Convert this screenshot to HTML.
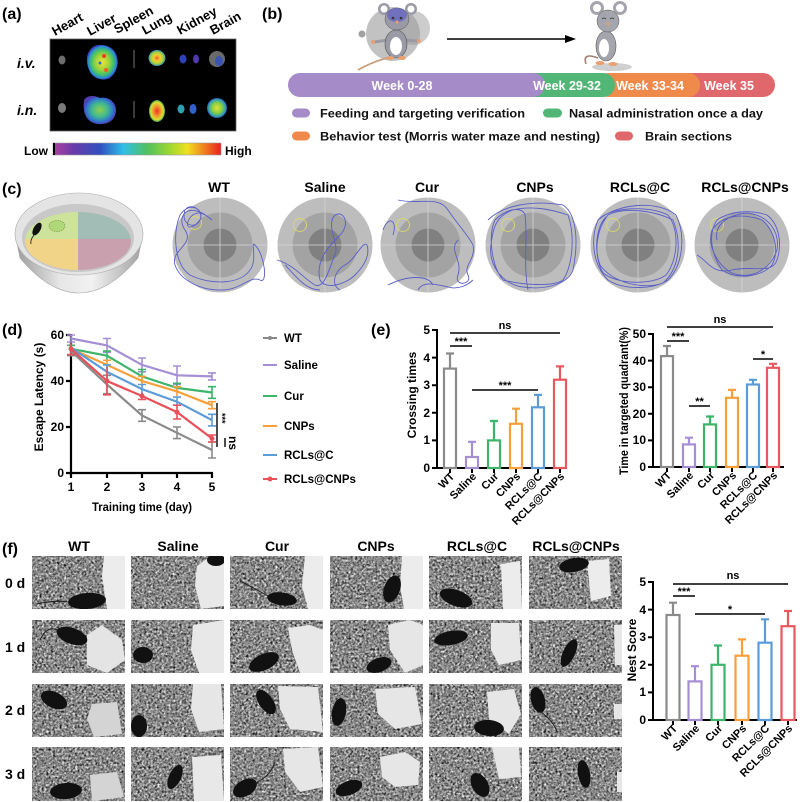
<!DOCTYPE html>
<html><head><meta charset="utf-8"><style>
html,body{margin:0;padding:0;background:#fff;}
svg{display:block;font-family:"Liberation Sans",Arial,sans-serif;font-weight:bold;}
</style></head><body>
<svg width="800" height="802" viewBox="0 0 800 802" xmlns="http://www.w3.org/2000/svg">
<defs>
<linearGradient id="cbar" x1="0" x2="1" y1="0" y2="0">
<stop offset="0" stop-color="#b040a0"/><stop offset="0.12" stop-color="#6a3aa8"/><stop offset="0.28" stop-color="#3050c0"/><stop offset="0.42" stop-color="#30c0e8"/><stop offset="0.56" stop-color="#50c060"/><stop offset="0.7" stop-color="#a0d830"/><stop offset="0.8" stop-color="#f0e020"/><stop offset="0.9" stop-color="#f08020"/><stop offset="1" stop-color="#e82020"/>
</linearGradient>
<radialGradient id="hg1"><stop offset="0" stop-color="#f2e23a"/><stop offset="0.45" stop-color="#9ad43c"/><stop offset="0.72" stop-color="#44c06a"/><stop offset="0.9" stop-color="#2a90d0"/><stop offset="1" stop-color="#3a40c0"/></radialGradient>
<radialGradient id="hg2"><stop offset="0" stop-color="#90d050"/><stop offset="0.5" stop-color="#40b890"/><stop offset="0.85" stop-color="#3070d0"/><stop offset="1" stop-color="#5040b0"/></radialGradient>
<radialGradient id="hg2b"><stop offset="0" stop-color="#e0e040"/><stop offset="0.5" stop-color="#8ad040"/><stop offset="0.85" stop-color="#30a0b0"/><stop offset="1" stop-color="#3050c0"/></radialGradient>
<radialGradient id="hg3"><stop offset="0" stop-color="#f06030"/><stop offset="0.4" stop-color="#f0d030"/><stop offset="0.75" stop-color="#a0d040"/><stop offset="1" stop-color="#3090c0"/></radialGradient>
<radialGradient id="hgR"><stop offset="0" stop-color="#f03020"/><stop offset="0.5" stop-color="#f0a030"/><stop offset="0.8" stop-color="#d8e030"/><stop offset="1" stop-color="#40a060"/></radialGradient>
<linearGradient id="bowl" x1="0" x2="1" y1="0" y2="0"><stop offset="0" stop-color="#9a9a9a"/><stop offset="0.35" stop-color="#e6e6e6"/><stop offset="0.6" stop-color="#f2f2f2"/><stop offset="1" stop-color="#a0a0a0"/></linearGradient>
<clipPath id="water"><ellipse cx="78" cy="241" rx="53" ry="29"/></clipPath>
<filter id="nz" filterUnits="userSpaceOnUse" x="30" y="554" width="596" height="250" color-interpolation-filters="sRGB">
<feTurbulence type="fractalNoise" baseFrequency="0.45" numOctaves="3" seed="7"/>
<feColorMatrix type="matrix" values="0.33 0.33 0.33 0 0 0.33 0.33 0.33 0 0 0.33 0.33 0.33 0 0 0 0 0 0 1"/>
<feComponentTransfer><feFuncR type="linear" slope="2.2" intercept="-0.56"/><feFuncG type="linear" slope="2.2" intercept="-0.56"/><feFuncB type="linear" slope="2.2" intercept="-0.56"/></feComponentTransfer>
</filter>
<clipPath id="photos">
<rect x="32" y="556" width="93" height="53"/><rect x="131" y="556" width="93" height="53"/><rect x="230" y="556" width="93" height="53"/><rect x="330" y="556" width="93" height="53"/><rect x="429" y="556" width="93" height="53"/><rect x="529" y="556" width="93" height="53"/>
<rect x="32" y="620" width="93" height="53"/><rect x="131" y="620" width="93" height="53"/><rect x="230" y="620" width="93" height="53"/><rect x="330" y="620" width="93" height="53"/><rect x="429" y="620" width="93" height="53"/><rect x="529" y="620" width="93" height="53"/>
<rect x="32" y="684" width="93" height="53"/><rect x="131" y="684" width="93" height="53"/><rect x="230" y="684" width="93" height="53"/><rect x="330" y="684" width="93" height="53"/><rect x="429" y="684" width="93" height="53"/><rect x="529" y="684" width="93" height="53"/>
<rect x="32" y="747" width="93" height="54"/><rect x="131" y="747" width="93" height="54"/><rect x="230" y="747" width="93" height="54"/><rect x="330" y="747" width="93" height="54"/><rect x="429" y="747" width="93" height="54"/><rect x="529" y="747" width="93" height="54"/>
</clipPath>
</defs>

<!-- ===== Panel (a) ===== -->
<text x="2" y="19" font-size="16">(a)</text>
<g font-size="13">
<text transform="translate(55,36) rotate(-29)">Heart</text>
<text transform="translate(90,36) rotate(-29)">Liver</text>
<text transform="translate(117,34) rotate(-29)">Spleen</text>
<text transform="translate(145,35) rotate(-29)">Lung</text>
<text transform="translate(180,35) rotate(-29)">Kidney</text>
<text transform="translate(213,35) rotate(-29)">Brain</text>
</g>
<rect x="50" y="39" width="186" height="92" fill="#000" stroke="#666" stroke-width="0.8"/>
<text x="17" y="68" font-size="14" font-style="italic">i.v.</text>
<text x="17" y="115" font-size="14" font-style="italic">i.n.</text>
<ellipse cx="62" cy="60" rx="3.5" ry="4.5" fill="#6e6e6e"/>
<ellipse cx="62" cy="108" rx="4" ry="5" fill="#7a7a7a"/>
<path d="M90,50 C95,42 110,44 115,52 C120,60 118,72 110,78 C102,82 92,78 89,70 C86,62 86,55 90,50 Z" fill="url(#hg1)"/>
<circle cx="104" cy="56" r="2" fill="#f04020"/><circle cx="106" cy="70" r="2" fill="#f06020"/><circle cx="100" cy="63" r="1.5" fill="#3070d0"/>
<path d="M84,100 C88,94 96,96 100,98 C108,96 116,102 116,110 C116,120 108,125 98,124 C88,123 82,115 84,100 Z" fill="url(#hg2)"/>
<line x1="134" y1="50" x2="134" y2="68" stroke="#3a3a3a" stroke-width="2"/>
<line x1="134" y1="101" x2="134" y2="118" stroke="#3a3a3a" stroke-width="2"/>
<ellipse cx="157" cy="58" rx="8.5" ry="8" fill="url(#hg3)"/>
<ellipse cx="157" cy="111" rx="8" ry="11" fill="url(#hgR)"/>
<ellipse cx="183" cy="59" rx="3.5" ry="4.5" fill="#3040b8"/>
<ellipse cx="196" cy="59" rx="3" ry="4.5" fill="#5038b0"/>
<ellipse cx="181" cy="109" rx="3.5" ry="4.5" fill="#30a0b0"/>
<ellipse cx="193" cy="109" rx="3.5" ry="5" fill="#3060c8"/>
<ellipse cx="217" cy="59" rx="8" ry="8" fill="#6a6a6a"/>
<ellipse cx="219" cy="61" rx="4" ry="5" fill="#3050c0" opacity="0.85"/>
<ellipse cx="217" cy="108" rx="10" ry="10" fill="url(#hg2b)"/>
<text x="24" y="155" font-size="12">Low</text>
<rect x="53" y="143" width="168" height="12" fill="url(#cbar)" stroke="#999" stroke-width="0.6"/>
<rect x="53" y="143" width="2" height="12" fill="#000"/>
<text x="225" y="155" font-size="12">High</text>

<!-- ===== Panel (b) ===== -->
<text x="262" y="19" font-size="16">(b)</text>
<circle cx="393" cy="34" r="27" fill="#9a9a9a" opacity="0.6"/>
<circle cx="413" cy="28" r="17" fill="#9a9a9a" opacity="0.5"/>
<circle cx="362" cy="34" r="3.5" fill="#a0a0a0"/>
<path d="M387,58 Q372,62 358,70" stroke="#c8a080" stroke-width="1.8" fill="none"/>
<line x1="388" y1="40" x2="374" y2="42" stroke="#9a9aa6" stroke-width="3"/>
<line x1="404" y1="40" x2="418" y2="41" stroke="#9a9aa6" stroke-width="3"/>
<circle cx="373" cy="42" r="2" fill="#e8a070"/><circle cx="419" cy="41" r="2" fill="#e8a070"/>
<ellipse cx="396" cy="44" rx="11" ry="14" fill="#9a9aa6" stroke="#555" stroke-width="0.6"/>
<ellipse cx="396" cy="46" rx="6" ry="9" fill="#fff"/>
<ellipse cx="390" cy="58" rx="4" ry="2" fill="#e8a070"/><ellipse cx="402" cy="58" rx="4" ry="2" fill="#e8a070"/>
<circle cx="384" cy="9" r="6" fill="#9a9aa6"/><circle cx="384" cy="9" r="3.5" fill="#fff"/>
<circle cx="411" cy="9" r="6" fill="#9a9aa6"/><circle cx="411" cy="9" r="3.5" fill="#fff"/>
<ellipse cx="397" cy="19" rx="12" ry="11" fill="#9a9aa6" stroke="#555" stroke-width="0.5"/>
<ellipse cx="397" cy="15" rx="10" ry="7" fill="#6a68c0" opacity="0.85"/>
<circle cx="393" cy="18" r="1.3" fill="#333"/><circle cx="401" cy="18" r="1.3" fill="#333"/>
<circle cx="397" cy="22" r="1.5" fill="#e8a070"/>
<line x1="447" y1="39" x2="567" y2="39" stroke="#000" stroke-width="1.4"/>
<polygon points="576,39 565,35 565,43" fill="#000"/>
<ellipse cx="612" cy="67" rx="20" ry="4" fill="#cfcfcf"/>
<path d="M598,58 Q582,52 586,64" stroke="#a08070" stroke-width="1.6" fill="none"/>
<ellipse cx="606" cy="46" rx="10" ry="15" fill="#a5a5ad" stroke="#555" stroke-width="0.6"/>
<ellipse cx="604" cy="48" rx="5" ry="9" fill="#fff"/>
<ellipse cx="600" cy="63" rx="4.5" ry="2" fill="#e8a070"/><ellipse cx="613" cy="64" rx="4.5" ry="2" fill="#e8a070"/>
<circle cx="597" cy="8" r="7" fill="#a5a5ad"/><circle cx="597" cy="8" r="4" fill="#fff"/>
<circle cx="620" cy="8" r="7" fill="#a5a5ad"/><circle cx="620" cy="8" r="4" fill="#fff"/>
<ellipse cx="608" cy="21" rx="11" ry="11" fill="#a5a5ad" stroke="#555" stroke-width="0.5"/>
<path d="M602,19 q2,-2 4,0 M610,19 q2,-2 4,0" stroke="#333" stroke-width="0.8" fill="none"/>
<circle cx="608" cy="24" r="1.5" fill="#e8a070"/>
<rect x="675" y="73" width="100" height="24" rx="12" fill="#e0686c"/>
<rect x="596" y="73" width="104" height="24" rx="12" fill="#f08a4b"/>
<rect x="515" y="73" width="100" height="24" rx="12" fill="#52b776"/>
<rect x="288" y="73" width="257" height="24" rx="12" fill="#a58bc7"/>
<g fill="#fff" font-size="12.5" text-anchor="middle">
<text x="402" y="90">Week 0-28</text>
<text x="567" y="90">Week 29-32</text>
<text x="650" y="90">Week 33-34</text>
<text x="729" y="90">Week 35</text>
</g>
<rect x="292" y="108.5" width="18" height="9" rx="4.5" fill="#a58bc7"/>
<rect x="543" y="108.5" width="19" height="9" rx="4.5" fill="#52b776"/>
<rect x="292" y="131.5" width="18" height="9" rx="4.5" fill="#f08a4b"/>
<rect x="615" y="131.5" width="18" height="9" rx="4.5" fill="#e0686c"/>
<g font-size="12" fill="#111">
<text x="320" y="117.5" textLength="205" lengthAdjust="spacingAndGlyphs">Feeding and targeting verification</text>
<text x="569" y="117.5" textLength="194" lengthAdjust="spacingAndGlyphs">Nasal administration once a day</text>
<text x="320" y="140.5" textLength="280" lengthAdjust="spacingAndGlyphs">Behavior test (Morris water maze and nesting)</text>
<text x="645" y="140.5" textLength="87" lengthAdjust="spacingAndGlyphs">Brain sections</text>
</g>

<!-- ===== Panel (c) ===== -->
<text x="2" y="194" font-size="16">(c)</text>
<path d="M15,234 L20,258 Q79,328 138,258 L143,234 Z" fill="url(#bowl)" stroke="#aaa" stroke-width="0.6"/>
<ellipse cx="79" cy="234" rx="64" ry="41" fill="#e4e4e4" stroke="#aaa" stroke-width="0.6"/>
<ellipse cx="78" cy="238" rx="56" ry="34" fill="#c8c8c8"/>
<g clip-path="url(#water)">
<rect x="20" y="205" width="58" height="34" fill="#cde39b"/>
<rect x="78" y="205" width="60" height="34" fill="#a2bdb5"/>
<rect x="20" y="239" width="58" height="35" fill="#f2d488"/>
<rect x="78" y="239" width="60" height="35" fill="#c9a0ad"/>
</g>
<ellipse cx="57" cy="226" rx="8" ry="5.5" fill="#b0d878" stroke="#6a8a40" stroke-width="0.6" stroke-dasharray="1.5,1"/>
<ellipse cx="37" cy="229" rx="3.5" ry="7" transform="rotate(30 37 229)" fill="#111"/>
<path d="M34,235 Q30,240 31,244" stroke="#111" stroke-width="0.8" fill="none"/>

<g font-size="14" text-anchor="middle">
<text x="219" y="192">WT</text>
<text x="325" y="192">Saline</text>
<text x="427" y="192">Cur</text>
<text x="535" y="192">CNPs</text>
<text x="640" y="192">RCLs@C</text>
<text x="745" y="192">RCLs@CNPs</text>
</g>
<g>
<g transform="translate(220,245)">
<circle r="47.5" fill="#bdbdbd"/><circle r="32.5" fill="#a3a3a3"/><circle r="16.5" fill="#808080"/>
<path d="M-47.5,0H47.5M0,-47.5V47.5" stroke="#d4d4d4" stroke-width="0.8"/>
<circle cx="-25" cy="-22" r="6.5" fill="none" stroke="#d8d870" stroke-width="0.9"/>
<path d="M-8,-25 C-30,-45 -45,-30 -35,-15 C-25,0 -50,5 -45,20 C-40,35 -20,45 0,45 C20,46 30,30 40,35 C48,40 45,10 35,0 C30,-5 38,15 30,25 C20,40 -10,40 -30,30 C-45,20 -48,-10 -40,-30 C-30,-45 -15,-35 -20,-25 C-25,-15 -40,-20 -35,-35 C-28,-45 -10,-30 -25,-20 C-40,-10 -30,-40 -15,-30" fill="none" stroke="#5a5fc8" stroke-width="0.9"/>
</g>
<g transform="translate(325,245)">
<circle r="47.5" fill="#bdbdbd"/><circle r="32.5" fill="#a3a3a3"/><circle r="16.5" fill="#808080"/>
<path d="M-47.5,0H47.5M0,-47.5V47.5" stroke="#d4d4d4" stroke-width="0.8"/>
<circle cx="-25" cy="-20" r="6.5" fill="none" stroke="#d8d870" stroke-width="0.9"/>
<path d="M-48,15 C-30,20 -20,35 -10,40 C0,45 5,20 10,10 C15,0 0,-20 10,-30 C20,-35 25,-20 15,-10 C5,0 -10,15 -5,35 C0,45 20,40 30,30 C40,20 45,10 42,0 C38,-5 30,15 20,20 C10,25 5,40 15,45 M-40,20 C-30,30 -20,45 -5,45" fill="none" stroke="#5a5fc8" stroke-width="0.9"/>
</g>
<g transform="translate(428,245)">
<circle r="47.5" fill="#bdbdbd"/><circle r="32.5" fill="#a3a3a3"/><circle r="16.5" fill="#808080"/>
<path d="M-47.5,0H47.5M0,-47.5V47.5" stroke="#d4d4d4" stroke-width="0.8"/>
<circle cx="-25" cy="-20" r="6.5" fill="none" stroke="#d8d870" stroke-width="0.9"/>
<path d="M-30,-45 C-10,-40 10,-50 20,-35 C30,-20 40,-10 45,0 C48,15 35,20 40,30 C45,40 25,42 30,30 C35,15 20,5 30,-5 M-45,-15 C-40,-30 -30,-25 -35,-10 M-10,45 C-5,35 10,40 20,42 C30,45 40,40 45,35 M-40,40 C-20,30 0,30 5,40" fill="none" stroke="#5a5fc8" stroke-width="0.9"/>
</g>
<g transform="translate(533,245)">
<circle r="47.5" fill="#bdbdbd"/><circle r="32.5" fill="#a3a3a3"/><circle r="16.5" fill="#808080"/>
<path d="M-47.5,0H47.5M0,-47.5V47.5" stroke="#d4d4d4" stroke-width="0.8"/>
<circle cx="-25" cy="-20" r="6.5" fill="none" stroke="#d8d870" stroke-width="0.9"/>
<path d="M-45,-25 C-30,-40 0,-45 30,-40 C45,-30 45,0 40,25 C35,40 10,45 -10,42 C-30,40 -45,20 -42,0 C-40,-20 -35,-30 -20,-35 C0,-40 20,-35 35,-30 C42,-10 40,20 30,35 C20,42 -10,40 -30,35 C-42,20 -45,-10 -38,-25 C-25,-38 -10,-38 -8,-30 C-5,-10 -10,20 -5,45" fill="none" stroke="#5a5fc8" stroke-width="0.9"/>
</g>
<g transform="translate(638,245)">
<circle r="47.5" fill="#bdbdbd"/><circle r="32.5" fill="#a3a3a3"/><circle r="16.5" fill="#808080"/>
<path d="M-47.5,0H47.5M0,-47.5V47.5" stroke="#d4d4d4" stroke-width="0.8"/>
<circle cx="-25" cy="-20" r="6.5" fill="none" stroke="#d8d870" stroke-width="0.9"/>
<path d="M-40,-25 C-20,-42 20,-45 38,-30 C48,-10 45,20 30,35 C15,45 -15,45 -30,35 C-45,20 -48,-5 -40,-25 C-28,-38 10,-40 30,-30 C42,-15 40,15 28,30 C15,40 -20,40 -35,28 C-45,10 -42,-15 -30,-30 C-15,-38 15,-35 35,-25 C45,0 40,25 25,38 C5,45 -25,38 -38,20 C-45,0 -40,-20 -32,-28" fill="none" stroke="#5a5fc8" stroke-width="0.9"/>
</g>
<g transform="translate(742,245)">
<circle r="47.5" fill="#bdbdbd"/><circle r="32.5" fill="#a3a3a3"/><circle r="16.5" fill="#808080"/>
<path d="M-47.5,0H47.5M0,-47.5V47.5" stroke="#d4d4d4" stroke-width="0.8"/>
<circle cx="-25" cy="-20" r="6.5" fill="none" stroke="#d8d870" stroke-width="0.9"/>
<path d="M-45,10 C-35,15 -30,30 -10,25 C10,20 30,30 35,15 C40,0 38,-20 25,-30 C10,-35 -10,-35 -25,-25 C-35,-10 -30,10 -20,25 C-5,35 20,32 30,20 C38,5 32,-15 20,-25 C0,-32 -20,-30 -30,-15 C-35,0 -25,20 -10,28 C10,35 28,25 35,5 C38,-15 25,-30 5,-32 C-15,-30 -28,-20 -25,-5" fill="none" stroke="#5a5fc8" stroke-width="0.9"/>
</g>
</g>

<!-- ===== Panel (d) ===== -->
<text x="2" y="335" font-size="16">(d)</text>
<g stroke="#000" stroke-width="2.2" fill="none">
<path d="M71,334V473H213"/>
<path d="M66,335H71M66,381H71M66,427H71M66,473H71"/>
<path d="M71,473V478M107,473V478M142,473V478M177,473V478M212,473V478"/>
</g>
<g font-size="12" text-anchor="end">
<text x="64" y="339">60</text><text x="64" y="385">40</text><text x="64" y="431">20</text><text x="64" y="477">0</text>
</g>
<g font-size="12" text-anchor="middle">
<text x="71" y="491">1</text><text x="107" y="491">2</text><text x="142" y="491">3</text><text x="177" y="491">4</text><text x="212" y="491">5</text>
</g>
<text x="142" y="511" font-size="12" text-anchor="middle" textLength="100" lengthAdjust="spacingAndGlyphs">Training time (day)</text>
<text transform="translate(43,397) rotate(-90)" font-size="12" text-anchor="middle">Escape Latency (s)</text>
<g fill="none" stroke-width="2.2">
<g stroke="#a58fd4">
<polyline points="71,338.5 107,345.4 142,364.9 177,375.3 212,376.4"/>
<path stroke-width="1.6" d="M71,335V342M67,335H75M67,342H75M107,338.5V352.3M103,338.5H111M103,352.3H111M142,358V371.8M138,358H146M138,371.8H146M177,366V384.5M173,366H181M173,384.5H181M212,372.9V379.9M208,372.9H216M208,379.9H216"/>
</g>
<g stroke="#3cb56a">
<polyline points="71,348.8 107,355.7 142,376.4 177,387.9 212,392.5"/>
<path stroke-width="1.6" d="M71,345.3V352.3M67,345.3H75M107,351.1V360.3M103,351.1H111M142,369.5V383.3M138,369.5H146M177,383.3V392.5M173,383.3H181M212,386.7V398.3M208,386.7H216M208,398.3H216"/>
</g>
<g stroke="#f5a03a">
<polyline points="71,348.8 107,364.9 142,381 177,391.4 212,405.2"/>
<path stroke-width="1.6" d="M107,360.3V369.5M103,360.3H111M142,376.4V385.6M138,376.4H146M177,386.8V396M173,386.8H181M212,401.7V408.7M208,401.7H216M208,408.7H216"/>
</g>
<g stroke="#5b9bd8">
<polyline points="71,347.7 107,371.8 142,389.1 177,401.7 212,420.1"/>
<path stroke-width="1.6" d="M71,344.2V351.2M107,364.9V378.7M103,364.9H111M142,384.5V393.7M138,384.5H146M177,397.1V406.3M173,397.1H181M212,414.3V425.9M208,414.3H216M208,425.9H216"/>
</g>
<g stroke="#8a8a8a">
<polyline points="71,351.1 107,384.5 142,415.5 177,432.8 212,450"/>
<path stroke-width="1.6" d="M71,346.5V355.7M67,355.7H75M107,375.3V393.7M103,393.7H111M103,375.3H111M142,409.7V421.3M138,409.7H146M138,421.3H146M177,427V438.6M173,427H181M173,438.6H181M212,442V458M208,442H216M208,458H216"/>
</g>
<g stroke="#e8505a">
<polyline points="71,348.8 107,381 142,396 177,412.1 212,438.5"/>
<path stroke-width="1.6" d="M71,343V354.6M67,354.6H75M107,367.2V394.8M103,394.8H111M142,392.5V399.5M138,399.5H146M177,405.2V419M173,405.2H181M173,419H181M212,435V442M208,435H216M208,442H216"/>
</g>
</g>
<circle cx="212" cy="438.5" r="2.5" fill="#e8505a"/><circle cx="71" cy="348.8" r="2.5" fill="#e8505a"/><circle cx="107" cy="381" r="2.5" fill="#e8505a"/><circle cx="142" cy="396" r="2.5" fill="#e8505a"/><circle cx="177" cy="412.1" r="2.5" fill="#e8505a"/>
<path d="M217,403V447M225,438V447" stroke="#000" stroke-width="1.4"/>
<text transform="translate(219,413) rotate(90)" font-size="9">***</text>
<text transform="translate(229,436) rotate(90)" font-size="12">ns</text>
<g stroke-width="2">
<path d="M263,338H277" stroke="#8a8a8a"/><circle cx="270" cy="338" r="2" fill="#8a8a8a"/>
<path d="M263,365H277" stroke="#a58fd4"/>
<path d="M263,396H277" stroke="#3cb56a"/>
<path d="M263,426H277" stroke="#f5a03a"/>
<path d="M263,455H277" stroke="#5b9bd8"/>
<path d="M263,479H277" stroke="#e8505a"/><circle cx="270" cy="479" r="2.5" fill="#e8505a"/>
</g>
<g font-size="11.5">
<text x="284" y="342">WT</text>
<text x="284" y="369">Saline</text>
<text x="284" y="400">Cur</text>
<text x="284" y="430">CNPs</text>
<text x="284" y="459">RCLs@C</text>
<text x="284" y="483">RCLs@CNPs</text>
</g>

<!-- ===== Panel (e) left ===== -->
<text x="371" y="335" font-size="16">(e)</text>
<g stroke="#000" stroke-width="2" fill="none">
<path d="M437,329V468H567"/>
<path d="M432,330H437M432,357.6H437M432,385.2H437M432,412.8H437M432,440.4H437M432,468H437"/>
<path d="M450,468V473M472,468V473M494,468V473M516,468V473M538,468V473M560,468V473"/>
</g>
<g font-size="12" text-anchor="end">
<text x="430" y="334">5</text><text x="430" y="362">4</text><text x="430" y="389">3</text><text x="430" y="417">2</text><text x="430" y="444">1</text><text x="430" y="472">0</text>
</g>
<text transform="translate(416,395) rotate(-90)" font-size="12" text-anchor="middle">Crossing times</text>
<g fill="#fff" stroke-width="2.2">
<g stroke="#8a8a8a"><rect x="444" y="368.6" width="12" height="99.4"/><path fill="none" d="M450,368.6V353.5M446,353.5H454"/></g>
<g stroke="#a58fd4"><rect x="466" y="457" width="12" height="11"/><path fill="none" d="M472,457V441.8M468,441.8H476"/></g>
<g stroke="#3cb56a"><rect x="488" y="440.4" width="12" height="27.6"/><path fill="none" d="M494,440.4V421M490,421H498"/></g>
<g stroke="#f5a03a"><rect x="510" y="423.8" width="12" height="44.2"/><path fill="none" d="M516,423.8V408.7M512,408.7H520"/></g>
<g stroke="#5b9bd8"><rect x="532" y="407.3" width="12" height="60.7"/><path fill="none" d="M538,407.3V394.9M534,394.9H542"/></g>
<g stroke="#e8585f"><rect x="554" y="379.7" width="12" height="88.3"/><path fill="none" d="M560,379.7V366.4M556,366.4H564"/></g>
</g>
<g stroke="#000" stroke-width="1.6"><path d="M450,333H560M450,346H472M472,390H538"/></g>
<g font-size="11" text-anchor="middle"><text x="505" y="329">ns</text><text x="461" y="345">***</text><text x="505" y="389">***</text></g>
<g font-size="11" text-anchor="end">
<text transform="translate(455,477) rotate(-45)">WT</text>
<text transform="translate(477,477) rotate(-45)">Saline</text>
<text transform="translate(499,477) rotate(-45)">Cur</text>
<text transform="translate(521,477) rotate(-45)">CNPs</text>
<text transform="translate(543,477) rotate(-45)">RCLs@C</text>
<text transform="translate(565,477) rotate(-45)">RCLs@CNPs</text>
</g>

<!-- ===== Panel (e) right ===== -->
<g stroke="#000" stroke-width="2" fill="none">
<path d="M653,333V467H784"/>
<path d="M648,334H653M648,360.6H653M648,387.2H653M648,413.8H653M648,440.4H653M648,467H653"/>
<path d="M667,467V472M689,467V472M710,467V472M732,467V472M753,467V472M773,467V472"/>
</g>
<g font-size="12" text-anchor="end">
<text x="646" y="338">50</text><text x="646" y="365">40</text><text x="646" y="391">30</text><text x="646" y="418">20</text><text x="646" y="444">10</text><text x="646" y="471">0</text>
</g>
<text transform="translate(628,401) rotate(-90)" font-size="12" text-anchor="middle" textLength="148" lengthAdjust="spacingAndGlyphs">Time in targeted quadrant(%)</text>
<g fill="#fff" stroke-width="2.2">
<g stroke="#8a8a8a"><rect x="661" y="356.1" width="12" height="110.9"/><path fill="none" d="M667,356.1V346M663,346H671"/></g>
<g stroke="#a58fd4"><rect x="683" y="444.4" width="12" height="22.6"/><path fill="none" d="M689,444.4V437.7M685,437.7H693"/></g>
<g stroke="#3cb56a"><rect x="704" y="424.4" width="12" height="42.6"/><path fill="none" d="M710,424.4V416.5M706,416.5H714"/></g>
<g stroke="#f5a03a"><rect x="726" y="397.8" width="12" height="69.2"/><path fill="none" d="M732,397.8V389.9M728,389.9H736"/></g>
<g stroke="#5b9bd8"><rect x="747" y="384.5" width="12" height="82.5"/><path fill="none" d="M753,384.5V379.8M749,379.8H757"/></g>
<g stroke="#e8585f"><rect x="767" y="367.8" width="12" height="99.2"/><path fill="none" d="M773,367.8V363.8M769,363.8H777"/></g>
</g>
<g stroke="#000" stroke-width="1.6"><path d="M667,327H773M667,341H689M689,406H710M753,359H773"/></g>
<g font-size="11" text-anchor="middle"><text x="720" y="323">ns</text><text x="678" y="340">***</text><text x="699.5" y="405">**</text><text x="763" y="358">*</text></g>
<g font-size="11" text-anchor="end">
<text transform="translate(672,476) rotate(-45)">WT</text>
<text transform="translate(694,476) rotate(-45)">Saline</text>
<text transform="translate(715,476) rotate(-45)">Cur</text>
<text transform="translate(737,476) rotate(-45)">CNPs</text>
<text transform="translate(758,476) rotate(-45)">RCLs@C</text>
<text transform="translate(778,476) rotate(-45)">RCLs@CNPs</text>
</g>

<!-- ===== Panel (f) ===== -->
<text x="2" y="554" font-size="16">(f)</text>
<g font-size="14" text-anchor="middle">
<text x="79" y="551">WT</text>
<text x="178" y="551">Saline</text>
<text x="277" y="551">Cur</text>
<text x="376" y="551">CNPs</text>
<text x="477" y="551">RCLs@C</text>
<text x="576" y="551">RCLs@CNPs</text>
</g>
<g font-size="14">
<text x="5" y="588">0 d</text>
<text x="5" y="652">1 d</text>
<text x="5" y="715">2 d</text>
<text x="5" y="779">3 d</text>
</g>
<g clip-path="url(#photos)">
<rect x="30" y="554" width="596" height="250" filter="url(#nz)"/>
<g fill="#111" stroke="none">
<g transform="translate(32,556)">
<polygon points="72,0 93,0 93,53 75,53 70,20" fill="#ececec"/>
<ellipse cx="55" cy="45" rx="19" ry="8" transform="rotate(-5 55 45)"/>
<path d="M37,46 Q20,44 5,48" stroke="#222" stroke-width="1" fill="none"/>
</g>
<g transform="translate(131,556)">
<polygon points="66,10 80,0 93,0 93,50 70,53 64,30" fill="#e8e8e8"/>
<ellipse cx="85" cy="4" rx="9" ry="6"/>
</g>
<g transform="translate(230,556)">
<polygon points="75,0 93,0 93,53 78,53 72,30" fill="#ececec"/>
<ellipse cx="52" cy="43" rx="15" ry="6.5" transform="rotate(8 52 43)"/>
<path d="M38,40 Q20,30 10,25" stroke="#222" stroke-width="1" fill="none"/>
</g>
<g transform="translate(330,556)">
<polygon points="72,0 93,0 93,53 74,53 70,30" fill="#ececec"/>
<ellipse cx="62" cy="33" rx="8" ry="14" transform="rotate(20 62 33)"/>
</g>
<g transform="translate(429,556)">
<polygon points="72,8 91,5 93,53 74,53" fill="#ececec"/>
<ellipse cx="27" cy="42" rx="17" ry="8" transform="rotate(20 27 42)"/>
</g>
<g transform="translate(529,556)">
<polygon points="58,5 80,3 82,40 62,45" fill="#ececec"/>
<ellipse cx="45" cy="9" rx="15" ry="7" transform="rotate(-10 45 9)"/>
</g>
<g transform="translate(32,620)">
<polygon points="55,15 70,5 90,20 93,40 75,53 55,45" fill="#e4e4e4"/>
<ellipse cx="40" cy="16" rx="16" ry="8" transform="rotate(20 40 16)"/>
<path d="M26,10 Q15,5 8,20" stroke="#222" stroke-width="1" fill="none"/>
</g>
<g transform="translate(131,620)">
<polygon points="62,5 93,0 93,53 68,53 60,30" fill="#e8e8e8"/>
<ellipse cx="12" cy="35" rx="10" ry="8"/>
</g>
<g transform="translate(230,620)">
<polygon points="58,8 80,5 93,10 93,53 70,53 62,30" fill="#e8e8e8"/>
<ellipse cx="34" cy="42" rx="16" ry="8" transform="rotate(-25 34 42)"/>
</g>
<g transform="translate(330,620)">
<polygon points="58,5 80,0 93,5 93,45 75,53 60,30" fill="#e6e6e6"/>
<ellipse cx="49" cy="45" rx="13" ry="7" transform="rotate(-20 49 45)"/>
</g>
<g transform="translate(429,620)">
<polygon points="62,3 90,3 92,40 70,45 62,30" fill="#e8e8e8"/>
<ellipse cx="22" cy="18" rx="17" ry="7" transform="rotate(-10 22 18)"/>
</g>
<g transform="translate(529,620)">
<polygon points="85,5 93,5 93,45 86,45" fill="#e8e8e8"/>
<ellipse cx="40" cy="33" rx="6" ry="15" transform="rotate(25 40 33)"/>
</g>
<g transform="translate(32,684)">
<polygon points="60,20 85,18 90,50 62,53 55,35" fill="#d4d4d4"/>
<ellipse cx="22" cy="16" rx="14" ry="8" transform="rotate(25 22 16)"/>
</g>
<g transform="translate(131,684)">
<polygon points="62,0 90,0 93,45 68,48 60,25" fill="#e6e6e6"/>
<ellipse cx="8" cy="42" rx="8" ry="11"/>
</g>
<g transform="translate(230,684)">
<polygon points="48,2 88,3 93,48 60,45 50,25" fill="#e6e6e6"/>
<ellipse cx="36" cy="18" rx="7" ry="14" transform="rotate(-35 36 18)"/>
</g>
<g transform="translate(330,684)">
<polygon points="45,5 85,3 92,40 65,45 48,30" fill="#e6e6e6"/>
<ellipse cx="9" cy="28" rx="7" ry="14" transform="rotate(10 9 28)"/>
</g>
<g transform="translate(429,684)">
<polygon points="58,8 85,5 92,30 80,50 60,35" fill="#e6e6e6"/>
<ellipse cx="60" cy="44" rx="15" ry="8" transform="rotate(5 60 44)"/>
</g>
<g transform="translate(529,684)">
<polygon points="85,20 93,20 93,35 85,35" fill="#e6e6e6"/>
<ellipse cx="9" cy="16" rx="7" ry="13" transform="rotate(-15 9 16)"/>
<path d="M12,28 Q25,38 28,48" stroke="#222" stroke-width="1" fill="none"/>
</g>
<g transform="translate(32,747)">
<polygon points="58,28 85,25 92,50 60,54" fill="#d4d4d4"/>
<ellipse cx="34" cy="44" rx="16" ry="8" transform="rotate(-5 34 44)"/>
</g>
<g transform="translate(131,747)">
<polygon points="61,10 90,8 93,54 63,54" fill="#e8e8e8"/>
<ellipse cx="44" cy="30" rx="6" ry="13" transform="rotate(25 44 30)"/>
</g>
<g transform="translate(230,747)">
<polygon points="53,2 88,0 93,40 70,45 55,25" fill="#e6e6e6"/>
<ellipse cx="15" cy="41" rx="13" ry="8" transform="rotate(-30 15 41)"/>
<path d="M25,36 Q40,30 45,15" stroke="#222" stroke-width="1" fill="none"/>
</g>
<g transform="translate(330,747)">
<polygon points="50,10 75,5 90,15 88,38 65,40 52,30" fill="#e6e6e6"/>
<ellipse cx="19" cy="41" rx="14" ry="7" transform="rotate(-20 19 41)"/>
</g>
<g transform="translate(429,747)">
<polygon points="63,0 90,0 92,30 70,32" fill="#e6e6e6"/>
<ellipse cx="51" cy="38" rx="8" ry="13" transform="rotate(-30 51 38)"/>
</g>
<g transform="translate(529,747)">
<polygon points="88,25 93,25 93,45 88,45" fill="#e6e6e6"/>
<ellipse cx="55" cy="27" rx="6" ry="14" transform="rotate(-10 55 27)"/>
</g>
</g>
</g>

<!-- (f) chart -->
<g stroke="#000" stroke-width="2" fill="none">
<path d="M653,581V720H797"/>
<path d="M648,582H653M648,609.6H653M648,637.2H653M648,664.8H653M648,692.4H653M648,720H653"/>
<path d="M673,720V725M695,720V725M718,720V725M742,720V725M765,720V725M788,720V725"/>
</g>
<g font-size="12" text-anchor="end">
<text x="646" y="586">5</text><text x="646" y="614">4</text><text x="646" y="641">3</text><text x="646" y="669">2</text><text x="646" y="696">1</text><text x="646" y="724">0</text>
</g>
<text transform="translate(636,650) rotate(-90)" font-size="12" text-anchor="middle">Nest Score</text>
<g fill="#fff" stroke-width="2.2">
<g stroke="#8a8a8a"><rect x="666.5" y="615" width="13" height="105"/><path fill="none" d="M673,615V602.7M669,602.7H677"/></g>
<g stroke="#a58fd4"><rect x="688.5" y="681.4" width="13" height="38.6"/><path fill="none" d="M695,681.4V666.2M691,666.2H699"/></g>
<g stroke="#3cb56a"><rect x="711.5" y="664.8" width="13" height="55.2"/><path fill="none" d="M718,664.8V645.5M714,645.5H722"/></g>
<g stroke="#f5a03a"><rect x="735.5" y="655.7" width="13" height="64.3"/><path fill="none" d="M742,655.7V639.4M738,639.4H746"/></g>
<g stroke="#5b9bd8"><rect x="758.5" y="642.7" width="13" height="77.3"/><path fill="none" d="M765,642.7V619.3M761,619.3H769"/></g>
<g stroke="#e8585f"><rect x="781.5" y="626.2" width="13" height="93.8"/><path fill="none" d="M788,626.2V611M784,611H792"/></g>
</g>
<g stroke="#000" stroke-width="1.6"><path d="M673,584H788M673,596H695M695,614H765"/></g>
<g font-size="11" text-anchor="middle"><text x="733" y="579">ns</text><text x="684" y="595">***</text><text x="730" y="613">*</text></g>
<g font-size="11" text-anchor="end">
<text transform="translate(678,729) rotate(-45)">WT</text>
<text transform="translate(700,729) rotate(-45)">Saline</text>
<text transform="translate(723,729) rotate(-45)">Cur</text>
<text transform="translate(747,729) rotate(-45)">CNPs</text>
<text transform="translate(770,729) rotate(-45)">RCLs@C</text>
<text transform="translate(793,729) rotate(-45)">RCLs@CNPs</text>
</g>
</svg>
</body></html>
